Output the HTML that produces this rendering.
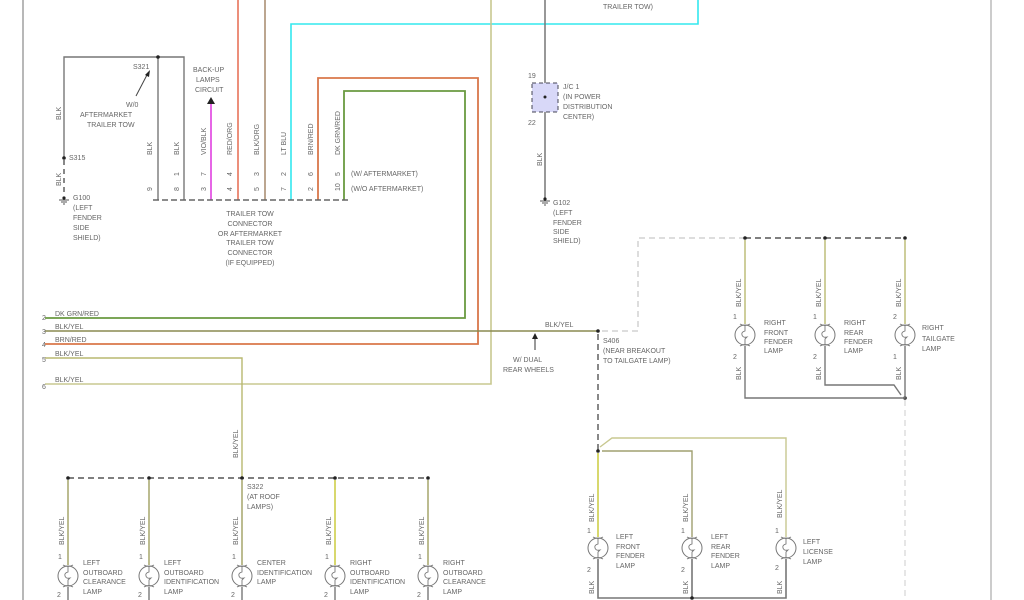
<!DOCTYPE html>
<html><head><meta charset="utf-8"><style>
html,body{margin:0;padding:0;background:#fff;width:1024px;height:600px;overflow:hidden}
svg{display:block}
text{font-family:"Liberation Sans",sans-serif;font-size:7px;fill:#666}
</style></head><body>
<svg width="1024" height="600" viewBox="0 0 1024 600" xmlns="http://www.w3.org/2000/svg">
<defs>
<g id="lamp">
<circle cx="0" cy="0" r="10" fill="#fff" stroke="#777" stroke-width="1"/>
<path d="M-5,-11 Q0,-8 5,-11 M-5,11 Q0,8 5,11" fill="none" stroke="#777"/>
<path d="M0,-9 L0,-4 Q-4,-3 -3,0 Q-2,3 2,2 L0,4 L0,9" fill="none" stroke="#777" stroke-width="0.9"/>
</g>
</defs>
<!-- frame lines -->
<line x1="23" y1="0" x2="23" y2="600" stroke="#888" stroke-width="1.2"/>
<line x1="991" y1="0" x2="991" y2="600" stroke="#bbb" stroke-width="1.5"/>
<line x1="905" y1="400" x2="905" y2="600" stroke="#ccc" stroke-dasharray="6,4"/>

<!-- top wires -->
<line x1="238" y1="0" x2="238" y2="200" stroke="#e8735a" stroke-width="1.6"/>
<line x1="265" y1="0" x2="265" y2="200" stroke="#a08060" stroke-width="1.4"/>
<polyline points="291,200 291,24 698,24 698,0" fill="none" stroke="#33e8ee" stroke-width="1.6"/>
<polyline points="491,0 491,384 45,384" fill="none" stroke="#c8c890" stroke-width="1.6"/>
<polyline points="318,200 318,78 478,78 478,344 45,344" fill="none" stroke="#d9774a" stroke-width="1.8"/>
<polyline points="344,200 344,91 465,91 465,318 45,318" fill="none" stroke="#6a9a40" stroke-width="1.8"/>
<line x1="45" y1="331" x2="598" y2="331" stroke="#8a8a50" stroke-width="1.4"/>
<polyline points="45,358 242,358 242,478" fill="none" stroke="#b8b870" stroke-width="1.4"/>
<line x1="211" y1="103" x2="211" y2="200" stroke="#e040e0" stroke-width="1.6"/>
<polygon points="211,97 207,104 215,104" fill="#222"/>

<!-- S321 / G100 -->
<polyline points="64,158 64,57 184,57 184,200" fill="none" stroke="#777" stroke-width="1.4"/>
<line x1="158" y1="57" x2="158" y2="200" stroke="#777" stroke-width="1.4"/>
<circle cx="158" cy="57" r="1.8" fill="#222"/>
<circle cx="64" cy="158" r="1.8" fill="#222"/>
<line x1="64" y1="160" x2="64" y2="196" stroke="#555" stroke-width="1.4" stroke-dasharray="5,4"/>
<circle cx="64" cy="198" r="1.6" fill="#222"/>
<path d="M59,200 h10 M61,202 h6 M63,204 h2" stroke="#555"/>
<line x1="148" y1="73" x2="136" y2="96" stroke="#444"/>
<polygon points="150,70 145,75 149,77" fill="#222"/>
<text x="133" y="69">S321</text>
<text x="126" y="107">W/0</text>
<text x="80" y="117">AFTERMARKET</text>
<text x="87" y="127">TRAILER TOW</text>
<text x="69" y="160">S315</text>
<text x="73" y="200">G100</text>
<text x="73" y="210">(LEFT</text>
<text x="73" y="220">FENDER</text>
<text x="73" y="230">SIDE</text>
<text x="73" y="240">SHIELD)</text>
<text transform="translate(61,120) rotate(-90)">BLK</text>
<text transform="translate(61,186) rotate(-90)">BLK</text>
<text x="193" y="72">BACK-UP</text>
<text x="196" y="82">LAMPS</text>
<text x="195" y="92">CIRCUIT</text>

<!-- connector -->
<line x1="153" y1="200" x2="350" y2="200" stroke="#666" stroke-width="1.4" stroke-dasharray="6,3"/>
<g>
<text transform="translate(152,155) rotate(-90)">BLK</text>
<text transform="translate(179,155) rotate(-90)">BLK</text>
<text transform="translate(206,155) rotate(-90)">VIO/BLK</text>
<text transform="translate(232,155) rotate(-90)">RED/ORG</text>
<text transform="translate(259,155) rotate(-90)">BLK/ORG</text>
<text transform="translate(286,155) rotate(-90)">LT BLU</text>
<text transform="translate(313,155) rotate(-90)">BRN/RED</text>
<text transform="translate(340,155) rotate(-90)">DK GRN/RED</text>
<text transform="translate(179,176) rotate(-90)">1</text>
<text transform="translate(206,176) rotate(-90)">7</text>
<text transform="translate(232,176) rotate(-90)">4</text>
<text transform="translate(259,176) rotate(-90)">3</text>
<text transform="translate(286,176) rotate(-90)">2</text>
<text transform="translate(313,176) rotate(-90)">6</text>
<text transform="translate(340,176) rotate(-90)">5</text>
<text transform="translate(152,191) rotate(-90)">9</text>
<text transform="translate(179,191) rotate(-90)">8</text>
<text transform="translate(206,191) rotate(-90)">3</text>
<text transform="translate(232,191) rotate(-90)">4</text>
<text transform="translate(259,191) rotate(-90)">5</text>
<text transform="translate(286,191) rotate(-90)">7</text>
<text transform="translate(313,191) rotate(-90)">2</text>
<text transform="translate(340,191) rotate(-90)">10</text>
</g>
<text x="351" y="176">(W/ AFTERMARKET)</text>
<text x="351" y="191">(W/O AFTERMARKET)</text>
<g text-anchor="middle">
<text x="250" y="216">TRAILER TOW</text>
<text x="250" y="226">CONNECTOR</text>
<text x="250" y="236">OR AFTERMARKET</text>
<text x="250" y="245">TRAILER TOW</text>
<text x="250" y="255">CONNECTOR</text>
<text x="250" y="265">(IF EQUIPPED)</text>
</g>

<!-- left wire labels -->
<text x="55" y="316">DK GRN/RED</text>
<text x="55" y="329">BLK/YEL</text>
<text x="55" y="342">BRN/RED</text>
<text x="55" y="356">BLK/YEL</text>
<text x="55" y="382">BLK/YEL</text>
<text x="42" y="320">2</text>
<text x="42" y="334">3</text>
<text x="42" y="347">4</text>
<text x="42" y="362">5</text>
<text x="42" y="389">6</text>
<text transform="translate(238,458) rotate(-90)">BLK/YEL</text>

<!-- JC1 / G102 -->
<line x1="545" y1="0" x2="545" y2="198" stroke="#777" stroke-width="1.5"/>
<rect x="532" y="83" width="26" height="29" fill="#d8d8f8" stroke="#445" stroke-dasharray="4,3"/>
<circle cx="545" cy="97" r="1.5" fill="#222"/>
<text x="528" y="78">19</text>
<text x="528" y="125">22</text>
<text x="563" y="89">J/C 1</text>
<text x="563" y="99">(IN POWER</text>
<text x="563" y="109">DISTRIBUTION</text>
<text x="563" y="119">CENTER)</text>
<text transform="translate(542,166) rotate(-90)">BLK</text>
<circle cx="545" cy="199" r="1.6" fill="#222"/>
<path d="M540,201 h10 M542,203 h6 M544,205 h2" stroke="#555"/>
<text x="553" y="205">G102</text>
<text x="553" y="215">(LEFT</text>
<text x="553" y="225">FENDER</text>
<text x="553" y="234">SIDE</text>
<text x="553" y="243">SHIELD)</text>
<text x="603" y="9">TRAILER TOW)</text>

<!-- S406 -->
<text x="545" y="327">BLK/YEL</text>
<circle cx="598" cy="331" r="1.8" fill="#222"/>
<line x1="535" y1="335" x2="535" y2="350" stroke="#333"/>
<polygon points="535,333 532,339 538,339" fill="#222"/>
<text x="513" y="362">W/ DUAL</text>
<text x="503" y="372">REAR WHEELS</text>
<polyline points="602,331 638,331 638,238 745,238" fill="none" stroke="#bbb" stroke-dasharray="6,4"/>
<line x1="598" y1="334" x2="598" y2="450" stroke="#555" stroke-width="1.4" stroke-dasharray="6,4"/>
<text x="603" y="343">S406</text>
<text x="603" y="353">(NEAR BREAKOUT</text>
<text x="603" y="363">TO TAILGATE LAMP)</text>

<!-- right lamps -->
<line x1="745" y1="238" x2="905" y2="238" stroke="#555" stroke-width="1.4" stroke-dasharray="6,4"/>
<g fill="#222"><circle cx="745" cy="238" r="1.8"/><circle cx="825" cy="238" r="1.8"/><circle cx="905" cy="238" r="1.8"/><circle cx="905" cy="398" r="1.8"/></g>
<g stroke="#b8b870" stroke-width="1.4"><line x1="745" y1="240" x2="745" y2="324"/><line x1="825" y1="240" x2="825" y2="324"/><line x1="905" y1="240" x2="905" y2="324"/></g>
<g fill="none" stroke="#777" stroke-width="1.4">
<polyline points="745,346 745,398 905,398 905,346"/>
<polyline points="825,346 825,385 894,385 901,395"/>
</g>
<use href="#lamp" x="745" y="335"/><use href="#lamp" x="825" y="335"/><use href="#lamp" x="905" y="335"/>
<text transform="translate(741,307) rotate(-90)">BLK/YEL</text>
<text transform="translate(821,307) rotate(-90)">BLK/YEL</text>
<text transform="translate(901,307) rotate(-90)">BLK/YEL</text>
<text transform="translate(741,380) rotate(-90)">BLK</text>
<text transform="translate(821,380) rotate(-90)">BLK</text>
<text transform="translate(901,380) rotate(-90)">BLK</text>
<text x="733" y="319">1</text><text x="813" y="319">1</text><text x="893" y="319">2</text>
<text x="733" y="359">2</text><text x="813" y="359">2</text><text x="893" y="359">1</text>
<text x="764" y="325">RIGHT</text><text x="764" y="335">FRONT</text><text x="764" y="344">FENDER</text><text x="764" y="353">LAMP</text>
<text x="844" y="325">RIGHT</text><text x="844" y="335">REAR</text><text x="844" y="344">FENDER</text><text x="844" y="353">LAMP</text>
<text x="922" y="330">RIGHT</text><text x="922" y="341">TAILGATE</text><text x="922" y="351">LAMP</text>

<!-- lower left group -->
<circle cx="598" cy="451" r="1.8" fill="#222"/>
<polyline points="602,451 692,451 692,537" fill="none" stroke="#a0a070" stroke-width="1.4"/>
<polyline points="600,447 612,438 786,438 786,537" fill="none" stroke="#c8c890" stroke-width="1.4"/>
<line x1="598" y1="453" x2="598" y2="537" stroke="#c8c830" stroke-width="1.4"/>
<g fill="none" stroke="#777" stroke-width="1.6"><polyline points="598,559 598,598 786,598 786,559"/><line x1="692" y1="559" x2="692" y2="598"/></g>
<circle cx="692" cy="598" r="1.8" fill="#222"/>
<use href="#lamp" x="598" y="548"/><use href="#lamp" x="692" y="548"/><use href="#lamp" x="786" y="548"/>
<text transform="translate(594,522) rotate(-90)">BLK/YEL</text>
<text transform="translate(688,522) rotate(-90)">BLK/YEL</text>
<text transform="translate(782,518) rotate(-90)">BLK/YEL</text>
<text transform="translate(594,594) rotate(-90)">BLK</text>
<text transform="translate(688,594) rotate(-90)">BLK</text>
<text transform="translate(782,594) rotate(-90)">BLK</text>
<text x="587" y="533">1</text><text x="681" y="533">1</text><text x="775" y="533">1</text>
<text x="587" y="572">2</text><text x="681" y="572">2</text><text x="775" y="570">2</text>
<text x="616" y="539">LEFT</text><text x="616" y="549">FRONT</text><text x="616" y="558">FENDER</text><text x="616" y="568">LAMP</text>
<text x="711" y="539">LEFT</text><text x="711" y="549">REAR</text><text x="711" y="558">FENDER</text><text x="711" y="568">LAMP</text>
<text x="803" y="544">LEFT</text><text x="803" y="554">LICENSE</text><text x="803" y="564">LAMP</text>

<!-- roof lamps -->
<line x1="68" y1="478" x2="428" y2="478" stroke="#555" stroke-width="1.4" stroke-dasharray="6,4"/>
<g fill="#222"><circle cx="68" cy="478" r="1.8"/><circle cx="149" cy="478" r="1.8"/><circle cx="242" cy="478" r="1.8"/><circle cx="335" cy="478" r="1.8"/><circle cx="428" cy="478" r="1.8"/></g>
<g stroke="#a0a060" stroke-width="1.4">
<line x1="68" y1="480" x2="68" y2="565"/><line x1="149" y1="480" x2="149" y2="565"/><line x1="242" y1="480" x2="242" y2="565"/><line x1="335" y1="480" x2="335" y2="565" stroke="#c8c830"/><line x1="428" y1="480" x2="428" y2="565"/>
</g>
<g stroke="#777" stroke-width="1.4"><line x1="68" y1="587" x2="68" y2="600"/><line x1="149" y1="587" x2="149" y2="600"/><line x1="242" y1="587" x2="242" y2="600"/><line x1="335" y1="587" x2="335" y2="600"/><line x1="428" y1="587" x2="428" y2="600"/></g>
<use href="#lamp" x="68" y="576"/><use href="#lamp" x="149" y="576"/><use href="#lamp" x="242" y="576"/><use href="#lamp" x="335" y="576"/><use href="#lamp" x="428" y="576"/>
<text x="247" y="489">S322</text><text x="247" y="499">(AT ROOF</text><text x="247" y="509">LAMPS)</text>
<text transform="translate(64,545) rotate(-90)">BLK/YEL</text>
<text transform="translate(145,545) rotate(-90)">BLK/YEL</text>
<text transform="translate(238,545) rotate(-90)">BLK/YEL</text>
<text transform="translate(331,545) rotate(-90)">BLK/YEL</text>
<text transform="translate(424,545) rotate(-90)">BLK/YEL</text>
<g><text x="58" y="559">1</text><text x="139" y="559">1</text><text x="232" y="559">1</text><text x="325" y="559">1</text><text x="418" y="559">1</text>
<text x="57" y="597">2</text><text x="138" y="597">2</text><text x="231" y="597">2</text><text x="324" y="597">2</text><text x="417" y="597">2</text></g>
<text x="83" y="565">LEFT</text><text x="83" y="575">OUTBOARD</text><text x="83" y="584">CLEARANCE</text><text x="83" y="594">LAMP</text>
<text x="164" y="565">LEFT</text><text x="164" y="575">OUTBOARD</text><text x="164" y="584">IDENTIFICATION</text><text x="164" y="594">LAMP</text>
<text x="257" y="565">CENTER</text><text x="257" y="575">IDENTIFICATION</text><text x="257" y="584">LAMP</text>
<text x="350" y="565">RIGHT</text><text x="350" y="575">OUTBOARD</text><text x="350" y="584">IDENTIFICATION</text><text x="350" y="594">LAMP</text>
<text x="443" y="565">RIGHT</text><text x="443" y="575">OUTBOARD</text><text x="443" y="584">CLEARANCE</text><text x="443" y="594">LAMP</text>
</svg>
</body></html>
